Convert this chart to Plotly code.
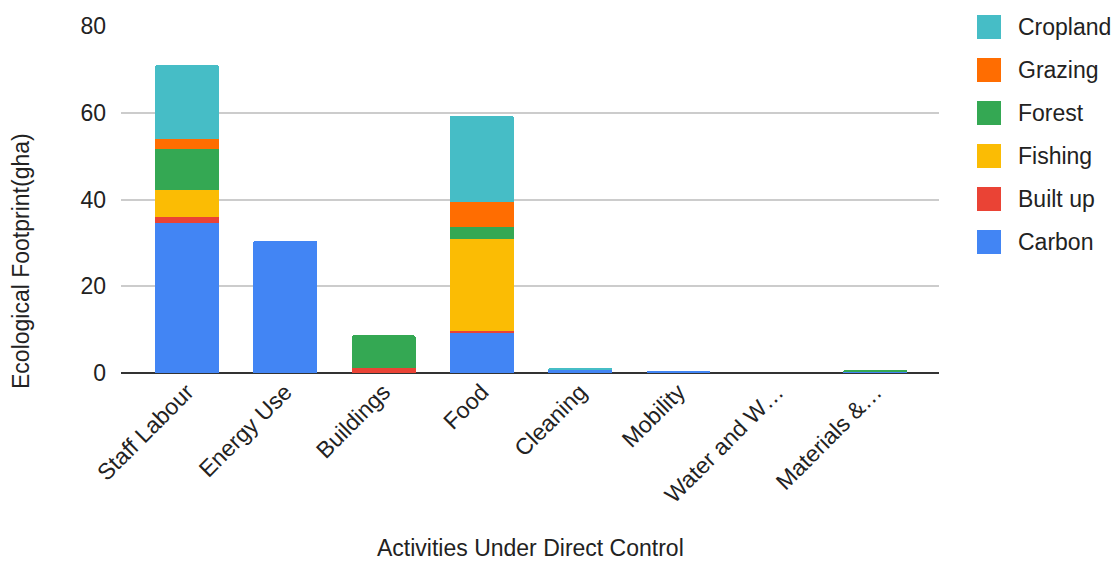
import plotly.graph_objects as go

# Activities and ecological footprint (gha) per land type
categories = ["Staff Labour", "Energy Use", "Buildings", "Food", "Cleaning",
              "Mobility", "Water and W…", "Materials &…"]
carbon   = [34.5, 30.5, 0.0, 9.2, 0.7, 0.3, 0.0, 0.3]
built_up = [1.4, 0.0, 1.1, 0.5, 0.0, 0.0, 0.0, 0.0]
fishing  = [6.3, 0.0, 0.0, 21.2, 0.0, 0.0, 0.0, 0.0]
forest   = [9.5, 0.0, 7.6, 2.7, 0.0, 0.0, 0.0, 0.4]
grazing  = [2.3, 0.0, 0.0, 5.9, 0.0, 0.0, 0.0, 0.0]
cropland = [17.0, 0.0, 0.0, 19.8, 0.4, 0.0, 0.0, 0.0]

series_names = ["Carbon", "Built up", "Fishing", "Forest", "Grazing", "Cropland"]
series_values = [carbon, built_up, fishing, forest, grazing, cropland]
series_colors = ["#4285F4", "#EA4335", "#FBBC04", "#34A853", "#FF6D01", "#46BDC6"]

y_ticks = [0, 20, 40, 60, 80]

FONT = "Liberation Sans, Arial, sans-serif"
TEXT = "#222222"
FS = 23

fig = go.Figure()
for name, vals, col in zip(series_names, series_values, series_colors):
    fig.add_trace(go.Bar(
        x=categories, y=vals, name=name, marker_color=col,
        marker_line_width=0, width=0.65, showlegend=False,
    ))

# Plot-area pixel frame, used to place legend and titles in paper units
PL, PR, PT, PB = 121, 939, 26, 373
W, H = 1113, 563


def px_x(x):
    return (x - PL) / (PR - PL)


def px_y(y):
    return (PB - y) / (PB - PT)


# Legend drawn as swatches + labels, top entry = last stacked series
shapes = []
annotations = []
x0 = 977
row0 = 27
step = 43
sw = 24
for i, (name, col) in enumerate(zip(series_names[::-1], series_colors[::-1])):
    cy = row0 + i * step
    shapes.append(dict(
        type="rect", xref="paper", yref="paper",
        x0=px_x(x0), x1=px_x(x0 + sw),
        y0=px_y(cy + sw / 2), y1=px_y(cy - sw / 2),
        fillcolor=col, line=dict(width=0), layer="above",
    ))
    annotations.append(dict(
        text=name, xref="paper", yref="paper",
        x=px_x(1016), y=px_y(cy),
        xanchor="left", yanchor="middle", showarrow=False,
        font=dict(size=FS, color=TEXT, family=FONT),
    ))

# Axis titles
annotations.append(dict(
    text="Activities Under Direct Control", xref="paper", yref="paper",
    x=0.5, y=px_y(563), xanchor="center", yanchor="bottom",
    showarrow=False, font=dict(size=FS, color=TEXT, family=FONT),
))
annotations.append(dict(
    text="Ecological Footprint(gha)", xref="paper", yref="paper",
    x=px_x(21), y=px_y(261),
    xanchor="center", yanchor="middle", textangle=-90,
    showarrow=False, font=dict(size=FS, color=TEXT, family=FONT),
))

fig.update_layout(
    barmode="stack",
    barcornerradius=2,
    width=W, height=H,
    margin=dict(l=PL, r=W - PR, t=PT, b=H - PB, pad=0),
    paper_bgcolor="white", plot_bgcolor="white",
    font=dict(family=FONT, size=FS, color=TEXT),
    showlegend=False,
    shapes=shapes,
    annotations=annotations,
    xaxis=dict(
        range=[-0.671, 7.65], tickangle=-45, showgrid=False,
        ticks="", showline=False, zeroline=False,
        tickfont=dict(size=FS, color=TEXT, family=FONT),
    ),
    yaxis=dict(
        range=[0, 80], tickvals=y_ticks, showgrid=True,
        gridcolor="#cccccc", gridwidth=1.5,
        zeroline=True, zerolinecolor="#333333", zerolinewidth=2,
        showline=False, ticks="", ticklabelstandoff=14,
        tickfont=dict(size=FS, color=TEXT, family=FONT),
    ),
)

fig.write_html("out.html")
